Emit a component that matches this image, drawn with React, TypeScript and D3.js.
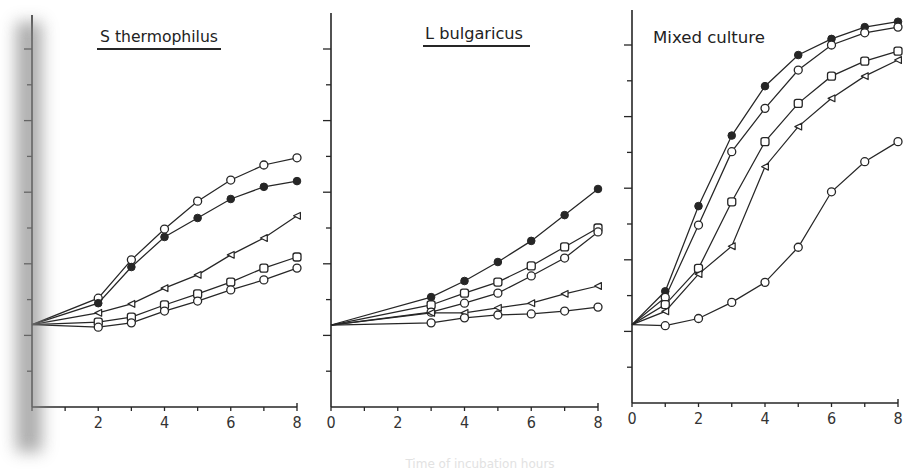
import React from 'react';
import * as d3 from 'd3';

// ---------- data ----------
const HOURS = [0, 1, 2, 3, 4, 5, 6, 7, 8];
const TITLES = ['S thermophilus', 'L bulgaricus', 'Mixed culture'];
const XTICK_LABELS_P1 = [2, 4, 6, 8];
const XTICK_LABELS_P23 = [0, 2, 4, 6, 8];
const Y_TICKS = [1, 2, 3, 4, 5, 6, 7, 8, 9, 10];
const X_LABEL = 'Time of incubation hours';

// S. thermophilus (values per hour, null = not measured)
const S_OPEN = [2.3, null, 3.04, 4.11, 4.97, 5.75, 6.34, 6.76, 6.96];
const S_FILLED = [2.3, null, 2.9, 3.91, 4.75, 5.28, 5.81, 6.15, 6.31];
const S_TRI = [2.3, null, 2.63, 2.88, 3.32, 3.69, 4.25, 4.72, 5.34];
const S_SQ = [2.3, null, 2.37, 2.51, 2.85, 3.16, 3.49, 3.88, 4.19];
const S_LOW = [2.3, null, 2.23, 2.35, 2.68, 2.96, 3.27, 3.55, 3.88];

// L. bulgaricus
const L_FILLED = [2.29, null, null, 3.07, 3.52, 4.05, 4.64, 5.36, 6.09];
const L_SQ = [2.29, null, null, 2.85, 3.18, 3.49, 3.94, 4.47, 5.0];
const L_OPEN = [2.29, null, null, 2.65, 2.9, 3.18, 3.66, 4.16, 4.89];
const L_TRI = [2.29, null, null, 2.63, 2.63, 2.77, 2.9, 3.16, 3.38];
const L_LOW = [2.29, null, null, 2.35, 2.49, 2.57, 2.6, 2.68, 2.79];

// Mixed culture
const M_FILLED = [2.19, 3.12, 5.5, 7.47, 8.85, 9.72, 10.17, 10.5, 10.65];
const M_OPEN = [2.19, 2.95, 4.97, 7.02, 8.23, 9.3, 10.0, 10.34, 10.5];
const M_SQ = [2.19, 2.75, 3.76, 5.62, 7.3, 8.37, 9.13, 9.55, 9.83];
const M_TRI = [2.19, 2.56, 3.6, 4.38, 6.6, 7.72, 8.51, 9.13, 9.58];
const M_LOW = [2.19, 2.16, 2.36, 2.81, 3.37, 4.35, 5.9, 6.74, 7.3];

// ---------- layout ----------
type Marker = 'filled' | 'open' | 'square' | 'tri';
interface Panel {
  x0: number; x1: number; base: number; top: number;
  title: string; tx: number; ty: number; tw: number; underline: [number, number] | null;
  ticks: number[];
  series: { values: (number | null)[]; marker: Marker }[];
}

const PANELS: Panel[] = [
  {
    x0: 32, x1: 297, base: 407, top: 15, title: TITLES[0], tx: 100, ty: 42, tw: 118, underline: [97, 221],
    ticks: XTICK_LABELS_P1,
    series: [
      { values: S_OPEN, marker: 'open' },
      { values: S_FILLED, marker: 'filled' },
      { values: S_TRI, marker: 'tri' },
      { values: S_SQ, marker: 'square' },
      { values: S_LOW, marker: 'open' },
    ],
  },
  {
    x0: 331, x1: 598, base: 407, top: 13, title: TITLES[1], tx: 425, ty: 39, tw: 98, underline: [423, 530],
    ticks: XTICK_LABELS_P23,
    series: [
      { values: L_FILLED, marker: 'filled' },
      { values: L_SQ, marker: 'square' },
      { values: L_OPEN, marker: 'open' },
      { values: L_TRI, marker: 'tri' },
      { values: L_LOW, marker: 'open' },
    ],
  },
  {
    x0: 632, x1: 898, base: 403, top: 10, title: TITLES[2], tx: 653, ty: 43, tw: 112, underline: null,
    ticks: XTICK_LABELS_P23,
    series: [
      { values: M_FILLED, marker: 'filled' },
      { values: M_OPEN, marker: 'open' },
      { values: M_SQ, marker: 'square' },
      { values: M_TRI, marker: 'tri' },
      { values: M_LOW, marker: 'open' },
    ],
  },
];

const INK = '#262626';

function MarkerShape({ x, y, m }: { x: number; y: number; m: Marker }) {
  if (m === 'filled') return <circle cx={x} cy={y} r={3.8} fill={INK} stroke={INK} strokeWidth={1} />;
  if (m === 'open') return <circle cx={x} cy={y} r={4} fill="#fff" stroke={INK} strokeWidth={1.3} />;
  if (m === 'square')
    return <rect x={x - 4} y={y - 4} width={8} height={8} rx={2.2} fill="#fff" stroke={INK} strokeWidth={1.3} />;
  const s = 3.4;
  const pts = [[x + s, y - s], [x + s, y + s], [x - s, y]].map((p) => p.join(',')).join(' ');
  return <polygon points={pts} fill="#fff" stroke={INK} strokeWidth={1.2} strokeLinejoin="round" />;
}

function PanelView({ p }: { p: Panel }) {
  const x = d3.scaleLinear().domain([0, 8]).range([p.x0, p.x1]);
  const y = d3.scaleLinear().domain([0, 10]).range([p.base, p.base - 358]);
  const line = d3
    .line<{ h: number; v: number }>()
    .x((d) => x(d.h))
    .y((d) => y(d.v));
  return (
    <g>
      {/* axes */}
      <line x1={x(0)} y1={p.top} x2={x(0)} y2={p.base} stroke={INK} strokeWidth={1.6} />
      <line x1={x(0)} y1={p.base} x2={x(8)} y2={p.base} stroke={INK} strokeWidth={1.6} />
      <line x1={x(8)} y1={p.base - 4} x2={x(8)} y2={p.base} stroke={INK} strokeWidth={1.4} />
      {Y_TICKS.map((t) => (
        <line key={'y' + t} x1={x(0) - (t % 2 === 0 ? 8 : 5)} x2={x(0)} y1={y(t)} y2={y(t)} stroke={INK} strokeWidth={1.3} />
      ))}
      {HOURS.map((h) => (
        <line key={'x' + h} x1={x(h)} x2={x(h)} y1={p.base} y2={p.base + 4} stroke={INK} strokeWidth={1.3} />
      ))}
      {p.ticks.map((t) => (
        <text key={'l' + t} x={x(t)} y={p.base + 21} textAnchor="middle" fontFamily="DejaVu Sans Condensed, DejaVu Sans" fontSize={16} fill="#333">
          {t}
        </text>
      ))}
      {/* title */}
      <text x={p.tx} y={p.ty} fontFamily="DejaVu Sans" fontSize={16} fill="#222" textLength={p.tw} lengthAdjust="spacingAndGlyphs">
        {p.title}
      </text>
      {p.underline && (
        <line x1={p.underline[0]} x2={p.underline[1]} y1={p.ty + 7} y2={p.ty + 7} stroke={INK} strokeWidth={1.8} />
      )}
      {/* series */}
      {p.series.map((s, i) => {
        const pts = s.values
          .map((v, h) => ({ h: HOURS[h], v }))
          .filter((d) => d.v != null) as { h: number; v: number }[];
        return (
          <g key={i}>
            <path d={line(pts) || ''} fill="none" stroke={INK} strokeWidth={1.25} />
            {pts.filter((d) => d.h > 0).map((d) => (
              <MarkerShape key={d.h} x={x(d.h)} y={y(d.v)} m={s.marker} />
            ))}
          </g>
        );
      })}
    </g>
  );
}

export default function App() {
  return (
    <svg width={909} height={475} style={{ position: 'absolute', left: 0, top: 0, background: '#fff' }}>
      <defs>
        <filter id="blur" x="-100%" y="-20%" width="300%" height="140%">
          <feGaussianBlur stdDeviation="8" />
        </filter>
      </defs>
      <rect x={0} y={0} width={909} height={475} fill="#fff" />
      {PANELS.map((p, i) => (
        <PanelView key={i} p={p} />
      ))}
      {/* scan shadow on the left edge */}
      <rect x={16} y={22} width={26} height={430} fill="#8a8a8a" opacity={0.7} filter="url(#blur)" />
      <text x={480} y={468} textAnchor="middle" fontFamily="DejaVu Sans" fontSize={12} fill="#e2e2e2">
        {X_LABEL}
      </text>
    </svg>
  );
}
